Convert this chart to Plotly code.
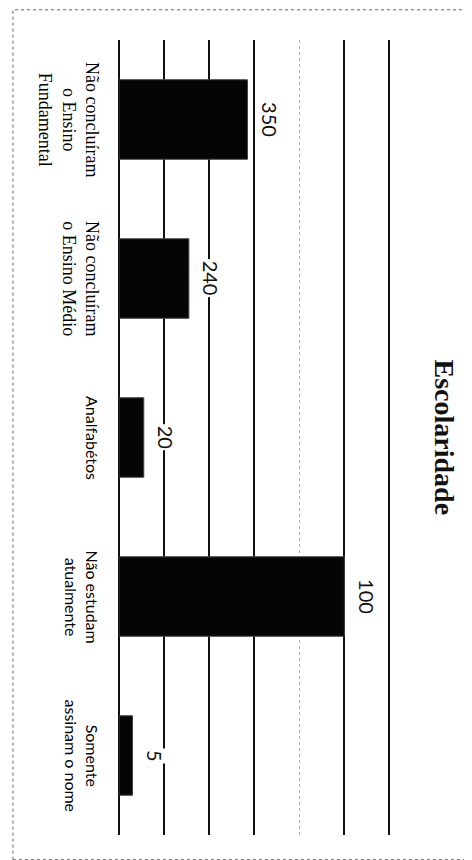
import plotly.graph_objects as go

# ---- data ----
categories = [
    "Não concluíram<br>o Ensino<br>Fundamental",
    "Não concluíram<br>o Ensino Médio",
    "Analfabétos",
    "Não estudam<br>atualmente",
    "Somente<br>assinam o nome",
]
bar_lengths = [57, 31, 11, 100, 6]          # bar lengths as drawn (axis units)
value_labels = ["350", "240", "20", "100", "5"]  # printed labels
grid_ticks = [20, 40, 60, 100, 120]
faint_ticks = [80]
title_text = "Escolaridade"

# ---- styles ----
label_fonts = ["Liberation Serif", "Liberation Serif", "Lato", "Lato", "Lato"]
label_sizes = [18, 18, 16, 16, 16]

fig = go.Figure()
fig.add_trace(go.Bar(
    y=categories, x=bar_lengths, orientation="h", width=0.5,
    marker=dict(color="#050505", line=dict(color="#444", width=1)),
    hoverinfo="skip",
))

annotations = []
for cat, v, lab in zip(categories, bar_lengths, value_labels):
    annotations.append(dict(
        x=v, y=cat, xref="x", yref="y", text=lab, showarrow=False,
        textangle=90, xshift=23, xanchor="center", yanchor="middle",
        bgcolor="white", borderpad=1,
        font=dict(family="Lato, Liberation Sans", size=20, color="#111"),
    ))
for cat, fam, sz in zip(categories, label_fonts, label_sizes):
    annotations.append(dict(
        x=0, y=cat, xref="paper", yref="y", text=cat, showarrow=False,
        textangle=90, xshift=-15, xanchor="right", yanchor="middle",
        align="center", font=dict(family=fam, size=sz, color="#000"),
    ))
annotations.append(dict(
    x=1, y=0.5, xref="paper", yref="paper", text="<b>" + title_text + "</b>",
    showarrow=False, textangle=90, xshift=32, xanchor="center", yanchor="middle",
    font=dict(family="Liberation Serif", size=28, color="#111"),
))

fig.update_layout(
    width=472, height=860,
    margin=dict(l=111, r=68, t=32, b=33),
    paper_bgcolor="white", plot_bgcolor="white",
    showlegend=False,
    annotations=annotations,
    shapes=[dict(type="rect", xref="paper", yref="paper",
                 x0=-0.362, x1=1.217, y0=-0.031, y1=1.038,
                 line=dict(color="#666", width=1, dash="dot"))],
    xaxis=dict(
        range=[0, 130], tickmode="array", tickvals=grid_ticks,
        showticklabels=False, ticks="", showgrid=True,
        gridcolor="#111", gridwidth=1.5,
        zeroline=True, zerolinecolor="#111", zerolinewidth=2,
        showline=False, fixedrange=True,
        minor=dict(tickmode="array", tickvals=faint_ticks, showgrid=True,
                   gridcolor="#aaa", gridwidth=1, griddash="dot"),
    ),
    yaxis=dict(
        categoryorder="array", categoryarray=categories,
        autorange="reversed", showticklabels=False, ticks="",
        showgrid=False, zeroline=False, showline=False, fixedrange=True,
    ),
)

fig.write_html("out.html")
